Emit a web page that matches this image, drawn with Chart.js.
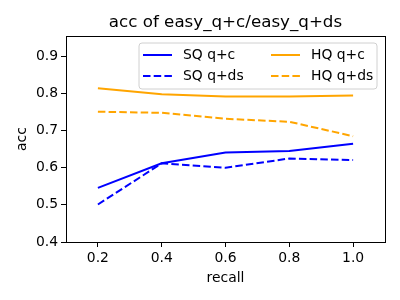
<!DOCTYPE html>
<html>
<head>
<meta charset="utf-8">
<script src="https://cdn.jsdelivr.net/npm/chart.js@4"></script>
<style>
  html, body { margin: 0; padding: 0; background: #fff; }
  #wrap { width: 400px; height: 300px; }
</style>
</head>
<body>
<div id="wrap"><canvas id="c" width="400" height="300"></canvas></div>
<script>
// values
const recall = [0.2, 0.4, 0.6, 0.8, 1.0];
const sqQc  = [0.546, 0.612, 0.641, 0.645, 0.665];
const sqQds = [0.501, 0.612, 0.600, 0.625, 0.621];
const hqQc  = [0.814, 0.798, 0.792, 0.792, 0.795];
const hqQds = [0.751, 0.748, 0.732, 0.724, 0.685];
const xTicks = [0.2, 0.4, 0.6, 0.8, 1.0];
const yTicks = [0.4, 0.5, 0.6, 0.7, 0.8, 0.9];

const FONT = 'DejaVu Sans';
const BLUE = '#0000ff';
const ORANGE = '#ffa500';
const DASH = [7.5, 3.2];

function pts(vals) {
  return recall.map((r, i) => ({ x: r, y: vals[i] }));
}

function series(label, vals, color, dashed) {
  return {
    label: label,
    data: pts(vals),
    borderColor: color,
    backgroundColor: color,
    borderWidth: 2,
    borderDash: dashed ? DASH : [],
    pointRadius: 0,
    tension: 0,
    fill: false
  };
}

// frame, title and legend drawn the matplotlib way
const extras = {
  id: 'extras',
  afterDatasetsDraw(chart) {
    const ctx = chart.ctx;
    const a = chart.chartArea;
    ctx.save();
    ctx.strokeStyle = '#000';
    ctx.lineWidth = 1;
    ctx.strokeRect(Math.round(a.left) + 0.5, Math.round(a.top) + 0.5,
      Math.round(a.right - a.left), Math.round(a.bottom - a.top));

    // title
    ctx.fillStyle = '#000';
    ctx.font = '16.7px "' + FONT + '"';
    ctx.textAlign = 'center';
    ctx.textBaseline = 'alphabetic';
    ctx.fillText('acc of easy_q+c/easy_q+ds', (a.left + a.right) / 2, 27);

    // legend box
    const bx = 139, by = 43, bw = 238, bh = 46, r = 3;
    ctx.beginPath();
    ctx.moveTo(bx + r, by);
    ctx.arcTo(bx + bw, by, bx + bw, by + bh, r);
    ctx.arcTo(bx + bw, by + bh, bx, by + bh, r);
    ctx.arcTo(bx, by + bh, bx, by, r);
    ctx.arcTo(bx, by, bx + bw, by, r);
    ctx.closePath();
    ctx.fillStyle = 'rgba(255,255,255,0.8)';
    ctx.fill();
    ctx.strokeStyle = '#d0d0d0';
    ctx.stroke();

    const items = chart.data.datasets;
    const cols = [143, 271];
    const rows = [55, 76];
    ctx.font = '13.9px "' + FONT + '"';
    ctx.textAlign = 'left';
    ctx.textBaseline = 'middle';
    items.forEach((d, i) => {
      const cx = cols[Math.floor(i / 2)];
      const cy = rows[i % 2];
      ctx.beginPath();
      ctx.setLineDash(d.borderDash);
      ctx.strokeStyle = d.borderColor;
      ctx.lineWidth = 2;
      ctx.moveTo(cx, cy);
      ctx.lineTo(cx + 29, cy);
      ctx.stroke();
      ctx.setLineDash([]);
      ctx.fillStyle = '#000';
      ctx.fillText(d.label, cx + 40, cy);
    });
    ctx.restore();
  }
};

new Chart(document.getElementById('c'), {
  type: 'line',
  data: {
    datasets: [
      series('SQ q+c', sqQc, BLUE, false),
      series('SQ q+ds', sqQds, BLUE, true),
      series('HQ q+c', hqQc, ORANGE, false),
      series('HQ q+ds', hqQds, ORANGE, true)
    ]
  },
  options: {
    responsive: false,
    animation: false,
    layout: { padding: { top: 36, right: 15, left: 0, bottom: 0 } },
    plugins: { legend: { display: false }, title: { display: false }, tooltip: { enabled: false } },
    scales: {
      x: {
        type: 'linear',
        min: 0.1,
        max: 1.1,
        afterBuildTicks: s => { s.ticks = xTicks.map(v => ({ value: v })); },
        afterFit: s => { s.height = 58; },
        grid: { drawOnChartArea: false, drawTicks: true, tickLength: 5, tickColor: '#000' },
        border: { display: true, color: '#000' },
        ticks: {
          color: '#000', padding: 3, maxRotation: 0, autoSkip: false,
          font: { family: FONT, size: 13.9 },
          callback: v => v.toFixed(1)
        },
        title: { display: true, text: 'recall', color: '#000', font: { family: FONT, size: 13.9 }, padding: { top: 0, bottom: 13 } }
      },
      y: {
        min: 0.4,
        max: 0.955,
        afterBuildTicks: s => { s.ticks = yTicks.map(v => ({ value: v })); },
        afterFit: s => { s.width = 66; },
        grid: { drawOnChartArea: false, drawTicks: true, tickLength: 5, tickColor: '#000' },
        border: { display: true, color: '#000' },
        ticks: {
          color: '#000', padding: 3, autoSkip: false,
          font: { family: FONT, size: 13.9 },
          callback: v => v.toFixed(1)
        },
        title: { display: true, text: 'acc', color: '#000', font: { family: FONT, size: 13.9 }, padding: { top: 14, bottom: 0 } }
      }
    }
  },
  plugins: [extras]
});
</script>
</body>
</html>
